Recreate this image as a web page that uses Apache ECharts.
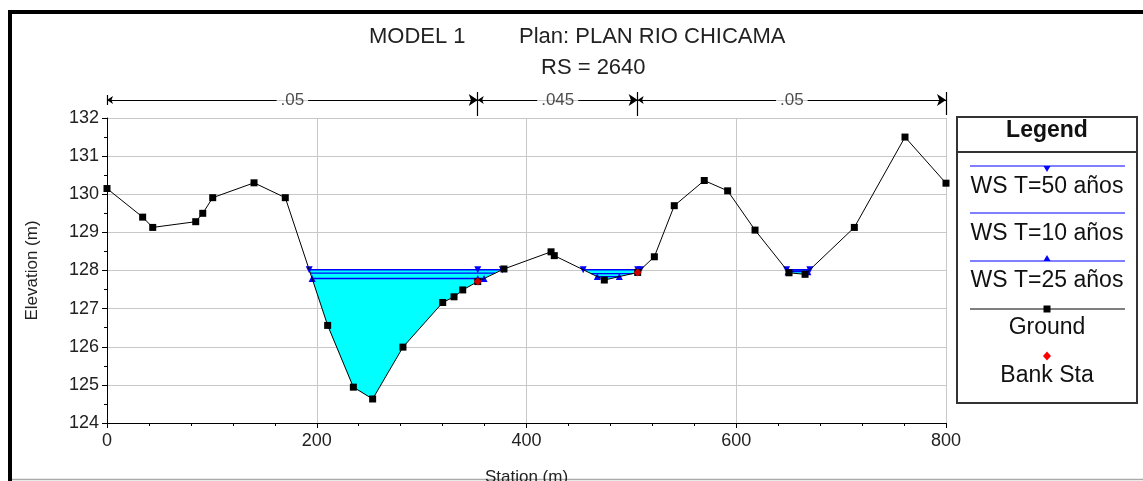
<!DOCTYPE html>
<html>
<head>
<meta charset="utf-8">
<title>RS = 2640</title>
<script src="https://cdn.jsdelivr.net/npm/echarts@6/dist/echarts.min.js"></script>
<style>
    html, body { margin: 0; padding: 0; background: #fff; }
    #chart { width: 1143px; height: 481px; }
</style>
</head>
<body>
<div id="chart"></div>
<script>
// ground profile (station m, elevation m)
const stations = [0, 34.0, 43.6, 84.6, 91.3, 100.8, 140.2, 170.0, 210.4, 234.9, 253.3, 282.2, 320.1, 330.9, 339.2, 353.5, 378.5, 423.4, 426.5, 474.2, 506.0, 521.9, 540.9, 569.5, 591.8, 617.9, 650.3, 665.6, 712.6, 760.9, 800];
const elevations = [130.15, 129.40, 129.13, 129.28, 129.50, 129.91, 130.30, 129.91, 126.56, 124.94, 124.63, 125.99, 127.16, 127.31, 127.49, 127.71, 128.04, 128.49, 128.39, 127.75, 127.95, 128.36, 129.70, 130.36, 130.09, 129.06, 127.94, 127.90, 129.13, 131.50, 130.29];

// bank stations
const bankSta = [353.5, 506.0];

// water surfaces: one level per pond (pond = index of lowest ground point)
const ponds = [10, 19, 27];
const ws50Levels = [128.02, 128.02, 128.02];
const ws10Levels = [127.93, 127.92, 127.99];
const ws25Levels = [127.79, 127.84, 127.97];

// manning n along the top
const nBreaks = [0, 353.5, 506.0, 800];
const nValues = ['.05', '.045', '.05'];

const xTicks = { min: 0, max: 800, interval: 200 };
const yTicks = { min: 124, max: 132, interval: 1 };

const FONT = "'Liberation Sans', Arial, sans-serif";
const BLUE = '#0000ff';

function crossAt(a, b, level) {
    return stations[a] + (level - elevations[a]) / (elevations[b] - elevations[a]) * (stations[b] - stations[a]);
}

function waterExtent(level, low) {
    let l = low;
    while (l > 0 && elevations[l - 1] < level) l--;
    let r = low;
    while (r < stations.length - 1 && elevations[r + 1] < level) r++;
    return { l, r, xl: crossAt(l - 1, l, level), xr: crossAt(r, r + 1, level) };
}

function wsLine(level, low) {
    const e = waterExtent(level, low);
    const pts = [[e.xl, level]];
    bankSta.forEach(b => { if (b > e.xl && b < e.xr) pts.push([b, level]); });
    pts.push([e.xr, level]);
    return pts;
}

function waterPoly(level, low) {
    const e = waterExtent(level, low);
    const pts = [[e.xl, level]];
    for (let i = e.l; i <= e.r; i++) pts.push([stations[i], elevations[i]]);
    pts.push([e.xr, level]);
    return pts;
}

const fills = ponds.map((p, i) => waterPoly(ws50Levels[i], p));

let series = [];

series.push({
    type: 'custom',
    name: 'water',
    xAxisIndex: 0,
    yAxisIndex: 0,
    z: 1,
    data: fills.map(f => f[0]),
    renderItem: (params, api) => {
        const pts = fills[params.dataIndex].map(p => api.coord(p));
        return { type: 'polygon', shape: { points: pts }, style: { fill: '#00ffff', stroke: null } };
    },
    silent: true
});

function addWs(levels, name, symbol, rotate) {
    ponds.forEach((p, i) => {
        series.push({
            type: 'line',
            name: name,
            z: 3,
            data: wsLine(levels[i], p),
            lineStyle: { color: BLUE, width: 1.3 },
            itemStyle: { color: BLUE },
            symbol: symbol,
            symbolSize: 7,
            symbolRotate: rotate,
            showSymbol: symbol !== 'none',
            animation: false,
            silent: true
        });
    });
}
addWs(ws50Levels, 'WS T=50 años', 'triangle', 180);
addWs(ws10Levels, 'WS T=10 años', 'none', 0);
addWs(ws25Levels, 'WS T=25 años', 'triangle', 0);

series.push({
    type: 'line',
    name: 'Ground',
    z: 4,
    data: stations.map((s, i) => [s, elevations[i]]),
    lineStyle: { color: '#000', width: 1 },
    itemStyle: { color: '#000' },
    symbol: 'rect',
    symbolSize: 7,
    animation: false,
    silent: true
});

series.push({
    type: 'scatter',
    name: 'Bank Sta',
    z: 5,
    data: bankSta.map(b => [b, elevations[stations.indexOf(b)]]),
    symbol: 'diamond',
    symbolSize: 8,
    itemStyle: { color: '#ff0000' },
    silent: true
});

// roughness bar (second grid above plot)
series.push({
    type: 'lines',
    coordinateSystem: 'cartesian2d',
    xAxisIndex: 1,
    yAxisIndex: 1,
    symbol: ['arrow', 'arrow'],
    symbolSize: [6, 9],
    lineStyle: { color: '#000', width: 1, opacity: 1 },
    data: nValues.map((v, i) => ({ coords: [[nBreaks[i], 0.5], [nBreaks[i + 1], 0.5]] })),
    silent: true,
    animation: false
});
series.push({
    type: 'lines',
    coordinateSystem: 'cartesian2d',
    xAxisIndex: 1,
    yAxisIndex: 1,
    symbol: 'none',
    lineStyle: { color: '#000', width: 1.2, opacity: 1 },
    data: nBreaks.map((b, i) => {
        if (i === 0) return { coords: [[b, 0.34], [b, 0.66]] };
        if (i === nBreaks.length - 1) return { coords: [[b, 0.03], [b, 0.75]] };
        return { coords: [[b, 0], [b, 0.75]] };
    }),
    silent: true,
    animation: false
});
series.push({
    type: 'scatter',
    xAxisIndex: 1,
    yAxisIndex: 1,
    symbolSize: 1,
    itemStyle: { color: 'rgba(0,0,0,0)' },
    data: nValues.map((v, i) => [(nBreaks[i] + nBreaks[i + 1]) / 2, 0.5, v]),
    label: {
        show: true,
        position: 'inside',
        formatter: p => p.value[2],
        backgroundColor: '#fff',
        padding: [1, 4],
        fontSize: 17,
        fontFamily: FONT,
        color: '#222'
    },
    silent: true
});

// legend box (HEC-RAS style)
const legX = 957, legW = 180, legCx = legX + legW / 2;
const legendRows = [
    { name: 'WS T=50 años', lineY: 166, textY: 187, color: BLUE, mark: 'down' },
    { name: 'WS T=10 años', lineY: 213, textY: 234, color: BLUE, mark: null },
    { name: 'WS T=25 años', lineY: 261, textY: 281, color: BLUE, mark: 'up' },
    { name: 'Ground', lineY: 309, textY: 328, color: '#000', mark: 'square' },
    { name: 'Bank Sta', lineY: 356, textY: 376, color: null, mark: 'diamond' }
];
let legendEls = [
    { type: 'rect', shape: { x: legX, y: 117, width: legW, height: 286 }, style: { fill: '#fff', stroke: '#333', lineWidth: 2 } },
    { type: 'line', shape: { x1: legX, y1: 152, x2: legX + legW, y2: 152 }, style: { stroke: '#333', lineWidth: 2 } },
    { type: 'text', x: legCx, y: 131, style: { text: 'Legend', font: 'bold 23px ' + FONT, fill: '#111', align: 'center', verticalAlign: 'middle' } }
];
legendRows.forEach(r => {
    if (r.color) {
        legendEls.push({ type: 'line', shape: { x1: 970, y1: r.lineY, x2: 1125, y2: r.lineY }, style: { stroke: r.color, lineWidth: 1.2 } });
    }
    if (r.mark === 'down') {
        legendEls.push({ type: 'polygon', shape: { points: [[legCx - 3.5, r.lineY], [legCx + 3.5, r.lineY], [legCx, r.lineY + 6]] }, style: { fill: BLUE } });
    } else if (r.mark === 'up') {
        legendEls.push({ type: 'polygon', shape: { points: [[legCx - 3.5, r.lineY], [legCx + 3.5, r.lineY], [legCx, r.lineY - 6]] }, style: { fill: BLUE } });
    } else if (r.mark === 'square') {
        legendEls.push({ type: 'rect', shape: { x: legCx - 3.5, y: r.lineY - 3.5, width: 7, height: 7 }, style: { fill: '#000' } });
    } else if (r.mark === 'diamond') {
        legendEls.push({ type: 'polygon', shape: { points: [[legCx, r.lineY - 4.5], [legCx + 4, r.lineY], [legCx, r.lineY + 4.5], [legCx - 4, r.lineY]] }, style: { fill: '#ff0000' } });
    }
    legendEls.push({ type: 'text', x: legCx, y: r.textY, style: { text: r.name, font: '23px ' + FONT, fill: '#111', align: 'center', verticalAlign: 'middle' } });
});

// outer frame
legendEls.push({ type: 'polyline', shape: { points: [[10, 481], [10, 12], [1143, 12]] }, style: { stroke: '#000', lineWidth: 4, fill: null } });
legendEls.push({ type: 'line', shape: { x1: 12, y1: 479.5, x2: 1143, y2: 479.5 }, style: { stroke: '#aaa', lineWidth: 1.5 } });

const option = {
    animation: false,
    backgroundColor: '#fff',
    title: [
        { text: 'MODEL 1', left: 364, top: 21, textStyle: { fontFamily: FONT, fontSize: 22, fontWeight: 'normal', color: '#222' } },
        { text: 'Plan: PLAN RIO CHICAMA', left: 514, top: 21, textStyle: { fontFamily: FONT, fontSize: 22, fontWeight: 'normal', color: '#222' } },
        { text: 'RS = 2640', left: 536, top: 52, textStyle: { fontFamily: FONT, fontSize: 22, fontWeight: 'normal', color: '#222' } }
    ],
    grid: [
        { left: 107, right: 197, top: 118, bottom: 58, containLabel: false, outerBoundsMode: 'none' },
        { left: 107, right: 197, top: 84, height: 32, containLabel: false, outerBoundsMode: 'none' }
    ],
    xAxis: [
        {
            type: 'value',
            gridIndex: 0,
            min: xTicks.min,
            max: xTicks.max,
            interval: xTicks.interval,
            name: 'Station (m)',
            nameLocation: 'middle',
            nameGap: 46,
            nameTextStyle: { fontFamily: FONT, fontSize: 17, color: '#222' },
            axisLine: { show: true, lineStyle: { color: '#000', width: 1 } },
            axisTick: { show: true, length: 5, lineStyle: { color: '#000' } },
            minorTick: { show: true, splitNumber: 5, length: 3, lineStyle: { color: '#000' } },
            axisLabel: { fontFamily: FONT, fontSize: 18, color: '#222', margin: 9 },
            splitLine: { show: true, lineStyle: { color: '#c8c8c8', width: 1 } }
        },
        { type: 'value', gridIndex: 1, min: 0, max: 800, show: false }
    ],
    yAxis: [
        {
            type: 'value',
            gridIndex: 0,
            min: yTicks.min,
            max: yTicks.max,
            interval: yTicks.interval,
            name: 'Elevation (m)',
            nameLocation: 'middle',
            nameGap: 66,
            nameRotate: 90,
            nameTextStyle: { fontFamily: FONT, fontSize: 17, color: '#222' },
            axisLine: { show: true, lineStyle: { color: '#000', width: 1 } },
            axisTick: { show: true, length: 5, lineStyle: { color: '#000' } },
            minorTick: { show: true, splitNumber: 2, length: 3, lineStyle: { color: '#000' } },
            axisLabel: { fontFamily: FONT, fontSize: 18, color: '#222', margin: 8 },
            splitLine: { show: true, lineStyle: { color: '#c8c8c8', width: 1 } }
        },
        { type: 'value', gridIndex: 1, min: 0, max: 1, show: false }
    ],
    graphic: legendEls,
    series: series
};

let chart = echarts.init(document.getElementById('chart'));
chart.setOption(option);
</script>
</body>
</html>
